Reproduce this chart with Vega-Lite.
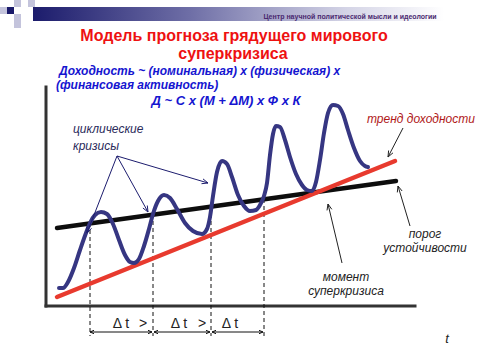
{
  "$schema": "https://vega.github.io/schema/vega-lite/v6.json",
  "width": 480,
  "height": 360,
  "padding": 0,
  "autosize": {"type": "fit", "contains": "padding"},
  "background": "white",
  "config": {"view": {"stroke": null}},
  "datasets": {
    "header": [{"x": 33, "x2": 480, "y": 7, "y2": 21}],
    "sqLight": [
      {"x": 14, "x2": 21, "y": 0, "y2": 7},
      {"x": 28, "x2": 35, "y": 0, "y2": 7},
      {"x": 0, "x2": 7, "y": 7, "y2": 14},
      {"x": 14, "x2": 21, "y": 14, "y2": 21},
      {"x": 14, "x2": 21, "y": 21, "y2": 28}
    ],
    "sqDark": [{"x": 7, "x2": 14, "y": 7, "y2": 14}],
    "headText": [{"x": 350, "y": 17, "t": "Центр научной политической мысли и идеологии"}],
    "title": [
      {"x": 234, "y": 36, "t": "Модель прогноза грядущего мирового"},
      {"x": 233, "y": 54, "t": "суперкризиса"}
    ],
    "blue": [
      {"x": 59, "y": 71, "t": "Доходность ~ (номинальная) х (физическая) х"},
      {"x": 56, "y": 85, "t": "(финансовая активность)"}
    ],
    "formula": [{"x": 226, "y": 101, "t": "Д ~ С х (М + ΔМ) х Ф х К"}],
    "cyc": [
      {"x": 73, "y": 129, "t": "циклические"},
      {"x": 73, "y": 146, "t": "кризисы"}
    ],
    "notes": [
      {"x": 425, "y": 234, "t": "порог"},
      {"x": 425, "y": 248, "t": "устойчивости"},
      {"x": 346, "y": 277, "t": "момент"},
      {"x": 346, "y": 291, "t": "суперкризиса"}
    ],
    "trendText": [{"x": 367, "y": 119, "t": "тренд доходности"}],
    "tText": [{"x": 447, "y": 339, "t": "t"}],
    "dtText": [
      {"x": 121, "y": 324, "t": "Δ t"},
      {"x": 143, "y": 324, "t": ">"},
      {"x": 179, "y": 324, "t": "Δ t"},
      {"x": 202, "y": 324, "t": ">"},
      {"x": 230, "y": 324, "t": "Δ t"}
    ],
    "axes": [
      {"id": "v", "i": 0, "x": 46, "y": 87},
      {"id": "v", "i": 1, "x": 46, "y": 306},
      {"id": "h", "i": 0, "x": 46, "y": 306},
      {"id": "h", "i": 1, "x": 415, "y": 306}
    ],
    "dashed": [
      {"id": "a", "i": 0, "x": 90, "y": 223}, {"id": "a", "i": 1, "x": 90, "y": 336},
      {"id": "b", "i": 0, "x": 153, "y": 214}, {"id": "b", "i": 1, "x": 153, "y": 336},
      {"id": "c", "i": 0, "x": 211, "y": 207}, {"id": "c", "i": 1, "x": 211, "y": 336},
      {"id": "d", "i": 0, "x": 264, "y": 199}, {"id": "d", "i": 1, "x": 264, "y": 336}
    ],
    "dtArrows": [
      {"id": "s1", "i": 0, "x": 90, "y": 332}, {"id": "s1", "i": 1, "x": 152, "y": 332},
      {"id": "h1a", "i": 0, "x": 94, "y": 330.3}, {"id": "h1a", "i": 1, "x": 90, "y": 332}, {"id": "h1a", "i": 2, "x": 94, "y": 333.7},
      {"id": "h1b", "i": 0, "x": 148, "y": 330.3}, {"id": "h1b", "i": 1, "x": 152, "y": 332}, {"id": "h1b", "i": 2, "x": 148, "y": 333.7},
      {"id": "s2", "i": 0, "x": 154, "y": 332}, {"id": "s2", "i": 1, "x": 210, "y": 332},
      {"id": "h2a", "i": 0, "x": 158, "y": 330.3}, {"id": "h2a", "i": 1, "x": 154, "y": 332}, {"id": "h2a", "i": 2, "x": 158, "y": 333.7},
      {"id": "h2b", "i": 0, "x": 206, "y": 330.3}, {"id": "h2b", "i": 1, "x": 210, "y": 332}, {"id": "h2b", "i": 2, "x": 206, "y": 333.7},
      {"id": "s3", "i": 0, "x": 212, "y": 332}, {"id": "s3", "i": 1, "x": 263, "y": 332},
      {"id": "h3a", "i": 0, "x": 216, "y": 330.3}, {"id": "h3a", "i": 1, "x": 212, "y": 332}, {"id": "h3a", "i": 2, "x": 216, "y": 333.7},
      {"id": "h3b", "i": 0, "x": 259, "y": 330.3}, {"id": "h3b", "i": 1, "x": 263, "y": 332}, {"id": "h3b", "i": 2, "x": 259, "y": 333.7}
    ],
    "cycArrows": [
      {"id": "a1", "i": 0, "x": 117, "y": 156}, {"id": "a1", "i": 1, "x": 87, "y": 233},
      {"id": "a1h", "i": 0, "x": 91.5, "y": 228.3}, {"id": "a1h", "i": 1, "x": 87, "y": 233}, {"id": "a1h", "i": 2, "x": 86.9, "y": 226.5},
      {"id": "a2", "i": 0, "x": 117, "y": 156}, {"id": "a2", "i": 1, "x": 148, "y": 212},
      {"id": "a2h", "i": 0, "x": 142.9, "y": 208}, {"id": "a2h", "i": 1, "x": 148, "y": 212}, {"id": "a2h", "i": 2, "x": 147.3, "y": 205.5},
      {"id": "a3", "i": 0, "x": 117, "y": 156}, {"id": "a3", "i": 1, "x": 208, "y": 183},
      {"id": "a3h", "i": 0, "x": 201.5, "y": 183.7}, {"id": "a3h", "i": 1, "x": 208, "y": 183}, {"id": "a3h", "i": 2, "x": 203, "y": 178.9}
    ],
    "noteArrows": [
      {"id": "t", "i": 0, "x": 403, "y": 128}, {"id": "t", "i": 1, "x": 388, "y": 157},
      {"id": "th", "i": 0, "x": 393, "y": 152.8}, {"id": "th", "i": 1, "x": 388, "y": 157}, {"id": "th", "i": 2, "x": 388.6, "y": 150.5},
      {"id": "p", "i": 0, "x": 410, "y": 226}, {"id": "p", "i": 1, "x": 398, "y": 186},
      {"id": "ph", "i": 0, "x": 402.1, "y": 191}, {"id": "ph", "i": 1, "x": 398, "y": 186}, {"id": "ph", "i": 2, "x": 397.3, "y": 192.4},
      {"id": "m", "i": 0, "x": 342, "y": 263}, {"id": "m", "i": 1, "x": 328, "y": 204},
      {"id": "mh", "i": 0, "x": 331.8, "y": 209.3}, {"id": "mh", "i": 1, "x": 328, "y": 204}, {"id": "mh", "i": 2, "x": 327, "y": 210.4}
    ],
    "blackLine": [{"x": 57, "y": 228}, {"x": 396, "y": 181}],
    "redLine": [{"x": 57, "y": 297}, {"x": 395, "y": 161}],
    "wave": [
      {"x": 59, "y": 288}, {"x": 63, "y": 288}, {"x": 68, "y": 282}, {"x": 74, "y": 268}, {"x": 80, "y": 250},
      {"x": 86, "y": 233}, {"x": 90, "y": 223}, {"x": 95, "y": 215}, {"x": 101, "y": 212}, {"x": 107, "y": 214},
      {"x": 113, "y": 224}, {"x": 119, "y": 240}, {"x": 125, "y": 255}, {"x": 130, "y": 262}, {"x": 134, "y": 263},
      {"x": 139, "y": 259}, {"x": 144, "y": 246}, {"x": 149, "y": 229}, {"x": 153, "y": 214}, {"x": 158, "y": 201},
      {"x": 164, "y": 195}, {"x": 170, "y": 198}, {"x": 177, "y": 209}, {"x": 185, "y": 223}, {"x": 193, "y": 231},
      {"x": 202, "y": 234}, {"x": 207, "y": 229}, {"x": 210, "y": 217}, {"x": 213, "y": 196}, {"x": 217, "y": 172},
      {"x": 222, "y": 161}, {"x": 227, "y": 164}, {"x": 232, "y": 177}, {"x": 238, "y": 195}, {"x": 244, "y": 206},
      {"x": 250, "y": 211}, {"x": 256, "y": 210}, {"x": 260, "y": 205}, {"x": 264, "y": 196}, {"x": 267, "y": 183},
      {"x": 270, "y": 155}, {"x": 273, "y": 134}, {"x": 276, "y": 126}, {"x": 280, "y": 127}, {"x": 285, "y": 140},
      {"x": 290, "y": 157}, {"x": 296, "y": 174}, {"x": 302, "y": 185}, {"x": 307, "y": 190}, {"x": 312, "y": 191},
      {"x": 316, "y": 182}, {"x": 320, "y": 160}, {"x": 324, "y": 133}, {"x": 328, "y": 113}, {"x": 333, "y": 105},
      {"x": 338, "y": 106}, {"x": 343, "y": 114}, {"x": 348, "y": 130}, {"x": 354, "y": 148}, {"x": 360, "y": 161},
      {"x": 365, "y": 166}, {"x": 368, "y": 167}
    ]
  },
  "encoding": {
    "x": {"field": "x", "type": "quantitative", "scale": {"domain": [0, 480], "nice": false, "zero": false}, "axis": null},
    "y": {"field": "y", "type": "quantitative", "scale": {"domain": [0, 360], "nice": false, "zero": false, "reverse": true}, "axis": null}
  },
  "layer": [
    {
      "data": {"name": "header"},
      "mark": {"type": "rect", "fill": {"gradient": "linear", "x1": 0, "x2": 1, "y1": 0, "y2": 0, "stops": [
        {"offset": 0, "color": "#1c1c6c"},
        {"offset": 0.35, "color": "#6e6ea6"},
        {"offset": 0.7, "color": "#d4d4e6"},
        {"offset": 0.92, "color": "#ffffff"}
      ]}},
      "encoding": {"x2": {"field": "x2"}, "y2": {"field": "y2"}}
    },
    {
      "data": {"name": "sqLight"},
      "mark": {"type": "rect", "fill": "#c4c4dc"},
      "encoding": {"x2": {"field": "x2"}, "y2": {"field": "y2"}}
    },
    {
      "data": {"name": "sqDark"},
      "mark": {"type": "rect", "fill": "#1a1a6a"},
      "encoding": {"x2": {"field": "x2"}, "y2": {"field": "y2"}}
    },
    {
      "data": {"name": "headText"},
      "mark": {"type": "text", "font": "Liberation Sans", "fontSize": 7, "fontWeight": "bold", "color": "#4a2a70", "align": "center", "baseline": "middle"},
      "encoding": {"text": {"field": "t"}}
    },
    {
      "data": {"name": "title"},
      "mark": {"type": "text", "font": "Liberation Sans", "fontSize": 16, "fontWeight": "bold", "color": "#ee1111", "align": "center", "baseline": "middle"},
      "encoding": {"text": {"field": "t"}}
    },
    {
      "data": {"name": "blue"},
      "mark": {"type": "text", "font": "Liberation Sans", "fontSize": 12, "fontWeight": "bold", "fontStyle": "italic", "color": "#1515d0", "align": "left", "baseline": "middle"},
      "encoding": {"text": {"field": "t"}}
    },
    {
      "data": {"name": "formula"},
      "mark": {"type": "text", "font": "Liberation Sans", "fontSize": 13, "fontWeight": "bold", "fontStyle": "italic", "color": "#1515d0", "align": "center", "baseline": "middle"},
      "encoding": {"text": {"field": "t"}}
    },
    {
      "data": {"name": "axes"},
      "mark": {"type": "line", "color": "#333333", "strokeWidth": 3, "strokeCap": "square"},
      "encoding": {"detail": {"field": "id"}, "order": {"field": "i"}}
    },
    {
      "data": {"name": "dashed"},
      "mark": {"type": "line", "color": "#111111", "strokeWidth": 1, "strokeDash": [4, 3]},
      "encoding": {"detail": {"field": "id"}, "order": {"field": "i"}}
    },
    {
      "data": {"name": "dtArrows"},
      "mark": {"type": "line", "color": "#111111", "strokeWidth": 1},
      "encoding": {"detail": {"field": "id"}, "order": {"field": "i"}}
    },
    {
      "data": {"name": "dtText"},
      "mark": {"type": "text", "font": "Liberation Sans", "fontSize": 14, "color": "#222222", "align": "center", "baseline": "middle"},
      "encoding": {"text": {"field": "t"}}
    },
    {
      "data": {"name": "blackLine"},
      "mark": {"type": "line", "color": "#0d0d0d", "strokeWidth": 4.5, "strokeCap": "round"},
      "encoding": {}
    },
    {
      "data": {"name": "redLine"},
      "mark": {"type": "line", "color": "#e83a2e", "strokeWidth": 4.5, "strokeCap": "round"},
      "encoding": {}
    },
    {
      "data": {"name": "wave"},
      "mark": {"type": "line", "color": "#363682", "strokeWidth": 4, "strokeCap": "round", "interpolate": "monotone"},
      "encoding": {}
    },
    {
      "data": {"name": "cycArrows"},
      "mark": {"type": "line", "color": "#1c1c6e", "strokeWidth": 1},
      "encoding": {"detail": {"field": "id"}, "order": {"field": "i"}}
    },
    {
      "data": {"name": "noteArrows"},
      "mark": {"type": "line", "color": "#222222", "strokeWidth": 1},
      "encoding": {"detail": {"field": "id"}, "order": {"field": "i"}}
    },
    {
      "data": {"name": "cyc"},
      "mark": {"type": "text", "font": "Liberation Sans", "fontSize": 12, "fontStyle": "italic", "color": "#2a2a5a", "align": "left", "baseline": "middle"},
      "encoding": {"text": {"field": "t"}}
    },
    {
      "data": {"name": "notes"},
      "mark": {"type": "text", "font": "Liberation Sans", "fontSize": 12, "fontStyle": "italic", "color": "#222222", "align": "center", "baseline": "middle"},
      "encoding": {"text": {"field": "t"}}
    },
    {
      "data": {"name": "trendText"},
      "mark": {"type": "text", "font": "Liberation Sans", "fontSize": 12, "fontStyle": "italic", "color": "#b01818", "align": "left", "baseline": "middle"},
      "encoding": {"text": {"field": "t"}}
    },
    {
      "data": {"name": "tText"},
      "mark": {"type": "text", "font": "Liberation Sans", "fontSize": 13, "fontStyle": "italic", "color": "#222222", "align": "center", "baseline": "middle"},
      "encoding": {"text": {"field": "t"}}
    }
  ]
}
